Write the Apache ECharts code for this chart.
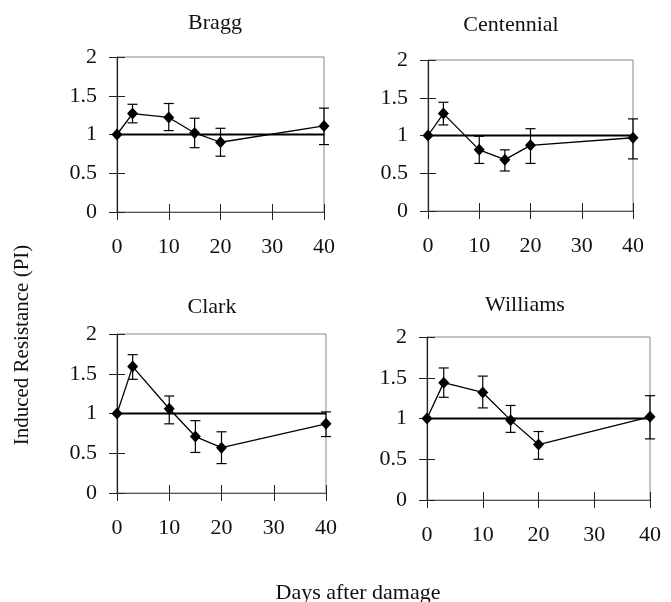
<!DOCTYPE html>
<html>
<head>
<meta charset="utf-8">
<script src="https://cdn.jsdelivr.net/npm/echarts@6/dist/echarts.min.js"></script>
<style>
html,body{margin:0;padding:0;background:#fff;}
#chart{width:671px;height:602px;}
</style>
</head>
<body>
<div id="chart"></div>
<script>
// ---- data ----
const panelNames = ['Bragg', 'Centennial', 'Clark', 'Williams'];
const days = [0, 3, 10, 15, 20, 40];
const xTicks = [0, 10, 20, 30, 40];
const yTicks = [0, 0.5, 1, 1.5, 2];
const referenceLevel = 1;

const braggMean = [1.00, 1.27, 1.22, 1.02, 0.90, 1.11];
const braggLow  = [1.00, 1.15, 1.05, 0.83, 0.72, 0.87];
const braggHigh = [1.00, 1.39, 1.40, 1.21, 1.08, 1.34];

const centennialMean = [1.00, 1.29, 0.81, 0.68, 0.87, 0.97];
const centennialLow  = [1.00, 1.14, 0.63, 0.53, 0.63, 0.69];
const centennialHigh = [1.00, 1.44, 0.99, 0.81, 1.09, 1.22];

const clarkMean = [1.00, 1.59, 1.06, 0.71, 0.57, 0.87];
const clarkLow  = [1.00, 1.43, 0.87, 0.51, 0.37, 0.71];
const clarkHigh = [1.00, 1.74, 1.22, 0.91, 0.77, 1.02];

const williamsMean = [1.00, 1.44, 1.32, 0.98, 0.68, 1.02];
const williamsLow  = [1.00, 1.26, 1.13, 0.83, 0.50, 0.75];
const williamsHigh = [1.00, 1.62, 1.52, 1.16, 0.84, 1.28];

const means = [braggMean, centennialMean, clarkMean, williamsMean];
const lows = [braggLow, centennialLow, clarkLow, williamsLow];
const highs = [braggHigh, centennialHigh, clarkHigh, williamsHigh];

// ---- layout ----
const grids = [
  {left: 117, top: 57, width: 207, height: 155},
  {left: 428, top: 60, width: 205, height: 151},
  {left: 117, top: 334, width: 209, height: 159},
  {left: 427, top: 337, width: 223, height: 163}
];
const titlePos = [
  {x: 215, y: 23}, {x: 511, y: 25}, {x: 212, y: 307}, {x: 525, y: 305}
];

const FONT = '"Liberation Serif", "DejaVu Serif", serif';
const xMin = xTicks[0], xMax = xTicks[xTicks.length - 1];
const xStep = xTicks[1] - xTicks[0];
const yMin = yTicks[0], yMax = yTicks[yTicks.length - 1];
const yStep = yTicks[1] - yTicks[0];

const option = {
  animation: false,
  backgroundColor: '#fff',
  grid: [],
  xAxis: [],
  yAxis: [],
  series: [],
  graphic: []
};

panelNames.forEach((name, i) => {
  option.grid.push(Object.assign({show: true, borderColor: '#8a8a8a', borderWidth: 1, backgroundColor: 'transparent', containLabel: false}, grids[i]));
  const xBase = {gridIndex: i, type: 'value', min: xMin, max: xMax, interval: xStep, splitLine: {show: false}};
  const yBase = {gridIndex: i, type: 'value', min: yMin, max: yMax, interval: yStep, splitLine: {show: false}};
  // main x axis (outward ticks + labels)
  option.xAxis.push(Object.assign({}, xBase, {
    position: 'bottom',
    axisLine: {onZero: false, lineStyle: {color: '#555', width: 1}},
    axisTick: {show: true, inside: false, length: 8, lineStyle: {color: '#222', width: 1}},
    axisLabel: {fontFamily: FONT, fontSize: 22, color: '#111', margin: 24}
  }));
  // inner tick axis
  option.xAxis.push(Object.assign({}, xBase, {
    position: 'bottom',
    axisLine: {show: false, onZero: false},
    axisTick: {show: true, inside: true, length: 8, lineStyle: {color: '#222', width: 1}},
    axisLabel: {show: false}
  }));
  option.yAxis.push(Object.assign({}, yBase, {
    position: 'left',
    axisLine: {show: true, onZero: false, lineStyle: {color: '#222', width: 1.2}},
    axisTick: {show: true, inside: false, length: 8, lineStyle: {color: '#222', width: 1}},
    axisLabel: {fontFamily: FONT, fontSize: 22, color: '#111', margin: 20}
  }));
  option.yAxis.push(Object.assign({}, yBase, {
    position: 'left',
    axisLine: {show: false, onZero: false},
    axisTick: {show: true, inside: true, length: 8, lineStyle: {color: '#222', width: 1}},
    axisLabel: {show: false}
  }));

  const xi = 2 * i, yi = 2 * i;
  // reference line at PI = 1
  option.series.push({
    type: 'line', xAxisIndex: xi, yAxisIndex: yi,
    data: [[xMin, referenceLevel], [xMax, referenceLevel]],
    symbol: 'none', silent: true,
    lineStyle: {color: '#000', width: 1.8}, z: 2
  });
  // error bars
  const ebData = [];
  days.forEach((d, k) => {
    if (highs[i][k] !== lows[i][k]) ebData.push([d, lows[i][k], highs[i][k]]);
  });
  option.series.push({
    type: 'custom', xAxisIndex: xi, yAxisIndex: yi,
    data: ebData, z: 3, silent: true,
    renderItem: function (params, api) {
      const x = api.value(0);
      const lo = api.coord([x, api.value(1)]);
      const hi = api.coord([x, api.value(2)]);
      const w = 5;
      const st = {stroke: '#000', lineWidth: 1.2};
      return {
        type: 'group',
        children: [
          {type: 'line', shape: {x1: lo[0], y1: lo[1], x2: hi[0], y2: hi[1]}, style: st},
          {type: 'line', shape: {x1: lo[0] - w, y1: lo[1], x2: lo[0] + w, y2: lo[1]}, style: st},
          {type: 'line', shape: {x1: hi[0] - w, y1: hi[1], x2: hi[0] + w, y2: hi[1]}, style: st}
        ]
      };
    }
  });
  // mean line
  option.series.push({
    type: 'line', xAxisIndex: xi, yAxisIndex: yi,
    data: days.map((d, k) => [d, means[i][k]]),
    symbol: 'diamond', symbolSize: [11, 12],
    itemStyle: {color: '#000'},
    lineStyle: {color: '#000', width: 1.3}, z: 4
  });

  option.graphic.push({
    type: 'text', x: titlePos[i].x, y: titlePos[i].y,
    style: {text: name, font: '22px ' + FONT, fill: '#111', textAlign: 'center', textVerticalAlign: 'middle'}
  });
});

option.graphic.push({
  type: 'text', x: 22, y: 345, rotation: Math.PI / 2,
  style: {text: 'Induced Resistance (PI)', font: '21px ' + FONT, fill: '#111', textAlign: 'center', textVerticalAlign: 'middle'}
});
option.graphic.push({
  type: 'text', x: 358, y: 593,
  style: {text: 'Days after damage', font: '22px ' + FONT, fill: '#111', textAlign: 'center', textVerticalAlign: 'middle'}
});

const chart = echarts.init(document.getElementById('chart'), null, {renderer: 'canvas'});
chart.setOption(option);
</script>
</body>
</html>
